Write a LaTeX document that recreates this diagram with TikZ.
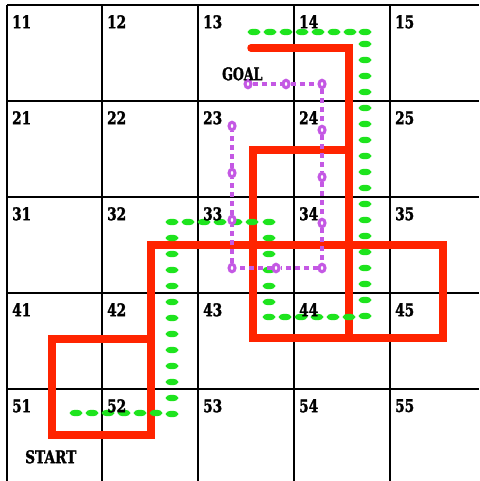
\documentclass[tikz,border=0pt]{standalone}
\usepackage{fontspec}
\setmainfont{Liberation Serif}
\newfontfamily\cellfont[FakeStretch=0.78,FakeBold=1.6]{DejaVu Serif Bold}
\usepackage{graphicx}
\usetikzlibrary{shapes.geometric}
\definecolor{rd}{RGB}{255,36,0}
\definecolor{gr}{RGB}{30,228,30}
\definecolor{pu}{RGB}{196,88,228}
\begin{document}
\begin{tikzpicture}[x=1pt,y=-1pt,
  gridline/.style={line width=1.8pt,black},
  redline/.style={line width=7.5pt,rd,line join=miter,line cap=round},
  purpline/.style={line width=3.4pt,pu,dash pattern=on 5pt off 4pt},
  pcirc/.style={ellipse,draw=pu,fill=white,line width=3pt,inner sep=0pt,minimum width=6pt,minimum height=7.5pt},
  cellno/.style={anchor=north west,inner sep=0pt,font=\fontsize{17.5}{18}\cellfont},
  gdot/.style={fill=gr}]
\useasboundingbox (0,0) rectangle (479,481);
\fill[white] (0,0) rectangle (479,481);
% grid
\foreach \x in {7,102,198,294,390} \draw[gridline] (\x,5) -- (\x,481);
\foreach \y in {5,101,197,293,389} \draw[gridline] (7,\y) -- (479,\y);
% red route
\draw[redline] (52,339) rectangle (151,435);
\draw[redline] (151,339) -- (151,245) -- (443,245) -- (443,338) -- (253,338) -- (253,150) -- (349,150);
\draw[redline] (251,48) -- (349,48) -- (349,338);
% green route
\foreach \y in {32,44,60,...,316} \fill[gdot] (365,\y) ellipse [x radius=6.5pt,y radius=3.2pt];
\foreach \x in {254,270,...,350} \fill[gdot] (\x,32) ellipse [x radius=6.5pt,y radius=3.2pt];
\foreach \x in {269,285,...,349} \fill[gdot] (\x,317) ellipse [x radius=6.5pt,y radius=3.2pt];
\foreach \y in {222,238,...,302} \fill[gdot] (269,\y) ellipse [x radius=6.5pt,y radius=3.2pt];
\foreach \x in {172,188,...,252} \fill[gdot] (\x,222) ellipse [x radius=6.5pt,y radius=3.2pt];
\foreach \y in {238,254,...,414} \fill[gdot] (172,\y) ellipse [x radius=6.5pt,y radius=3.2pt];
\foreach \x in {76,92,...,156} \fill[gdot] (\x,413) ellipse [x radius=6.5pt,y radius=3.2pt];
% purple route
\node[pcirc] (p1) at (248,84) {};
\node[pcirc] (p2) at (286,84) {};
\node[pcirc] (p3) at (322,84) {};
\node[pcirc] (p4) at (322,130) {};
\node[pcirc] (p5) at (322,177) {};
\node[pcirc] (p6) at (322,223) {};
\node[pcirc] (p7) at (322,268) {};
\node[pcirc] (p8) at (276,268) {};
\node[pcirc] (p9) at (232,268) {};
\node[pcirc] (p10) at (232,220) {};
\node[pcirc] (p11) at (232,173) {};
\node[pcirc] (p12) at (232,126) {};
\draw[purpline] (p1) -- (p2);
\draw[purpline] (p2) -- (p3);
\draw[purpline] (p3) -- (p4);
\draw[purpline] (p4) -- (p5);
\draw[purpline] (p5) -- (p6);
\draw[purpline] (p6) -- (p7);
\draw[purpline] (p7) -- (p8);
\draw[purpline] (p8) -- (p9);
\draw[purpline] (p9) -- (p10);
\draw[purpline] (p10) -- (p11);
\draw[purpline] (p11) -- (p12);
% cell numbers
\foreach \r/\yy in {1/5,2/101,3/197,4/293,5/389}
  \foreach \c/\xx in {1/7,2/102,3/198,4/294,5/390}
    \node[cellno] (n\r\c) at (\xx+5,\yy+10) {\r\c};
\node[cellno] (goal) at (222,67) {\scalebox{0.92}[1]{GOAL}};
\node[cellno] (start) at (25,450) {START};
\end{tikzpicture}
\end{document}
